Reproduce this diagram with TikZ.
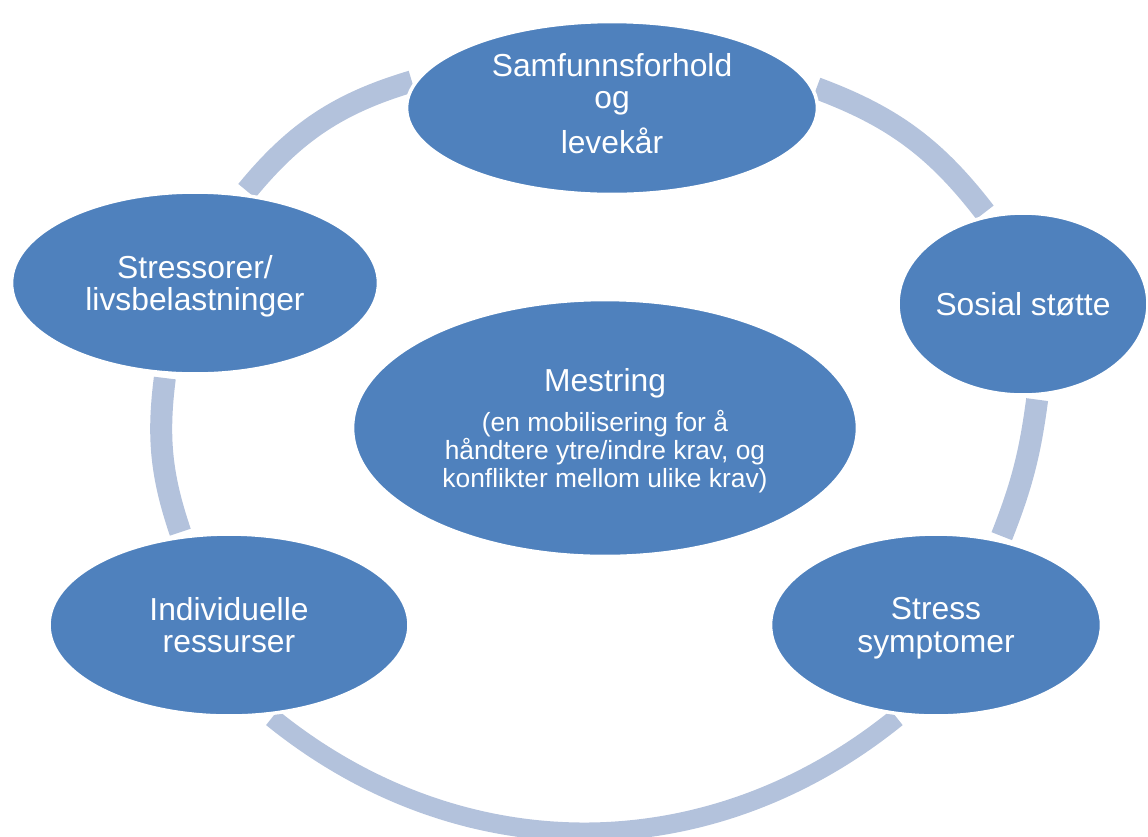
\documentclass[tikz,border=0pt]{standalone}
\usepackage{fontspec}
\setmainfont{Liberation Sans}
\usetikzlibrary{shapes,backgrounds}
\definecolor{blobblue}{HTML}{4F81BD}
\definecolor{ringblue}{HTML}{B3C2DC}

\begin{document}
\begin{tikzpicture}[x=0.02cm,y=0.02cm,
  blob/.style={ellipse,fill=blobblue,draw=white,line width=2pt,inner sep=0pt,text depth=0pt,
    text=white,align=center,font=\fontsize{18.1}{18.4}\selectfont},
  ring/.style={draw=ringblue,line width=0.44cm,shorten >=2pt,shorten <=2pt}]
  \useasboundingbox (0,0) rectangle (1148,-836);

  \node[blob,minimum width=8.22cm,minimum height=3.46cm,text depth=0.2cm] (samf) at (612,-108)
     {Samfunnsforhold\\og\\[7pt]levekår};
  \node[blob,minimum width=5cm,minimum height=3.64cm]    (sosial) at (1023,-304) {Sosial støtte};
  \node[blob,minimum width=6.62cm,minimum height=3.64cm] (sympt)  at (936,-625)  {Stress\\symptomer};
  \node[blob,minimum width=7.2cm,minimum height=3.64cm]  (indiv)  at (229,-625)  {Individuelle\\ressurser};
  \node[blob,minimum width=7.34cm,minimum height=3.64cm] (stress) at (195,-283)  {Stressorer/\\livsbelastninger};
  \node[blob,minimum width=10.1cm,minimum height=5.14cm,font=\fontsize{15}{16.2}\selectfont] (mestring) at (605,-428)
     {{\fontsize{18.1}{18.4}\selectfont Mestring}\\[6.5pt](en mobilisering for å\\håndtere ytre/indre krav, og\\konflikter mellom ulike krav)};

 \begin{scope}[on background layer]
 \path[ring]
     (stress.61.7)	edge [bend left=17]	(samf.172.8)
     (samf.6.5)	edge [bend left=16]	(sosial.112.4)
     (sosial.-81)	edge [bend left=7]	(sympt.53.3)
     (sympt.-112.8)	edge [bend left=39,line width=0.38cm]	(indiv.-66.7)
     (indiv.118)	edge [bend left=13]	(stress.-108)
  ;
 \end{scope}
\end{tikzpicture}
\end{document}
